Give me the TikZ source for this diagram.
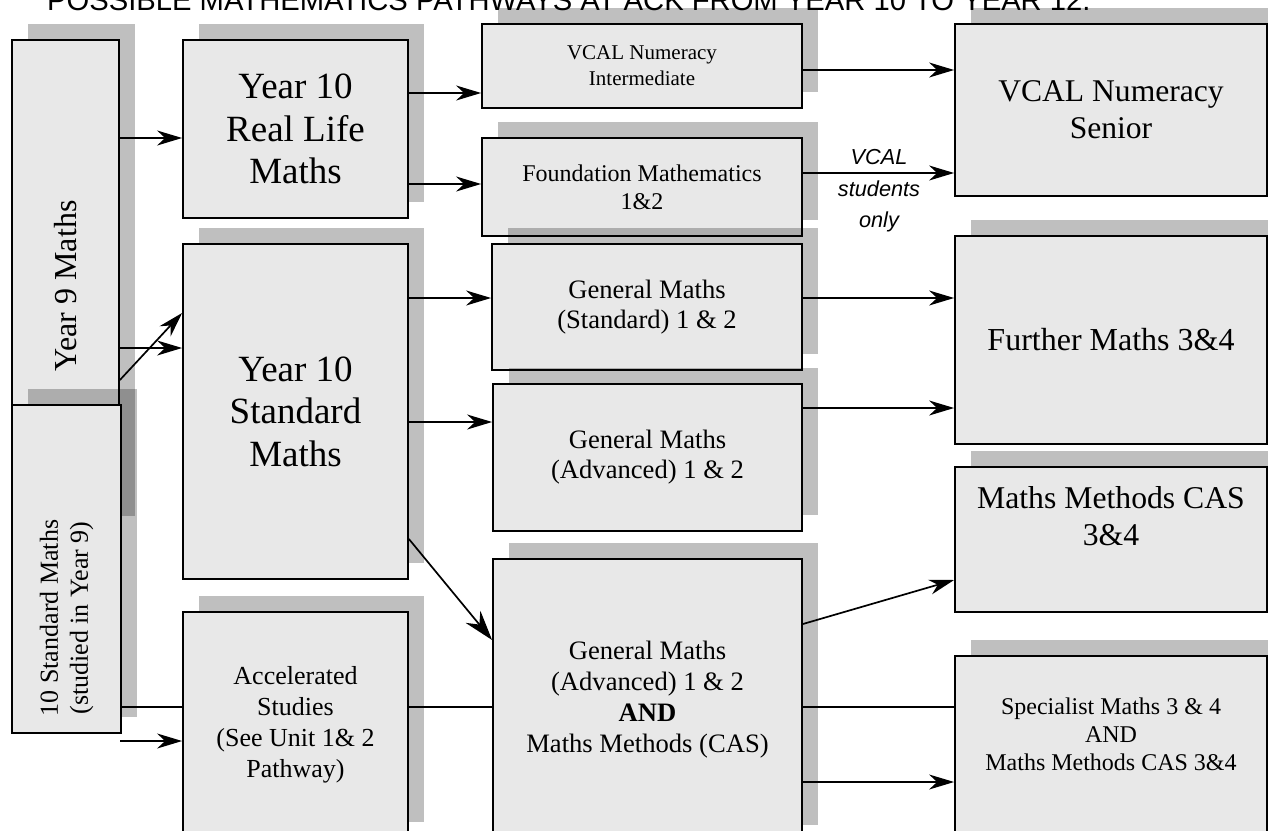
\documentclass[tikz,border=0pt]{standalone}
\usepackage{fontspec}
\setmainfont{Liberation Serif}
\newfontfamily\headfont{Liberation Sans}
\usepackage{tikz}
\usetikzlibrary{arrows.meta, shadows, backgrounds}
\definecolor{boxFill}{HTML}{E8E8E8}
\newcommand{\fsz}[2]{\fontsize{#1}{#2}\selectfont}

\tikzset{
  pathbox/.style={draw=black, line width=1.8pt, fill=boxFill, inner sep=0pt, align=center,
    drop shadow={shadow xshift=16pt, shadow yshift=16pt, fill=black, opacity=0.25}},
  pathtext/.style={inner sep=0pt, align=center},
  pathline/.style={line width=1.7pt},
  patharrow/.style={pathline, -{Stealth[length=25pt, width=15pt, inset=8pt]}},
  bigarrow/.style={pathline, -{Stealth[length=30pt, width=19pt, inset=10pt]}},
}

\begin{document}
\begin{tikzpicture}[x=1pt, y=-1pt]
\path[use as bounding box] (0,0) rectangle (1268,830);
\clip (0,0) rectangle (1268,830);

% title, cut off at the top
\node[anchor=base west, inner sep=0pt, font=\headfont\fsz{29.2}{34}] (title) at (47,10)
  {POSSIBLE MATHEMATICS PATHWAYS AT ACK FROM YEAR 10 TO YEAR 12.};

% year 9 / year 10
\node[pathbox, minimum width=107pt, minimum height=492pt, font=\fsz{32}{36}] (y9) at (65.5,286)
  {\rotatebox{90}{Year 9 Maths}};
\node[pathbox, minimum width=109pt, minimum height=328pt] (s10) at (66.5,569) {};
\node[pathtext, rotate=90, font=\fsz{26}{30}] (s10txt) at ([yshift=-49pt]s10.center)
  {10 Standard Maths\\(studied in Year 9)};
\node[pathbox, minimum width=225pt, minimum height=178pt, font=\fsz{37}{42.5}] (rl) at (295.5,129)
  {Year 10\\Real Life\\Maths};
\node[pathbox, minimum width=225pt, minimum height=335pt, font=\fsz{37}{42.5}] (std) at (295.5,411.5)
  {Year 10\\Standard\\Maths};
\node[pathbox, minimum width=225pt, minimum height=226pt, font=\fsz{26}{31}] (acc) at (295.5,725)
  {Accelerated\\Studies\\(See Unit 1\& 2\\Pathway)};

% year 11
\node[pathbox, minimum width=320pt, minimum height=84pt, font=\fsz{21}{26}] (vint) at (642,66)
  {VCAL Numeracy\\Intermediate};
\node[pathbox, minimum width=320pt, minimum height=98pt, font=\fsz{24}{28}] (fnd) at (642,187)
  {Foundation Mathematics\\1\&2};
\node[pathbox, minimum width=310pt, minimum height=126pt, font=\fsz{26.6}{30}] (gstd) at (647,307)
  {General Maths\\(Standard) 1 \& 2};
\node[pathbox, minimum width=309pt, minimum height=147pt, font=\fsz{26.6}{30}] (gadv) at (647.5,457.5)
  {General Maths\\(Advanced) 1 \& 2};
\node[pathbox, minimum width=309pt, minimum height=282pt, font=\fsz{26.6}{31}] (gand) at (647.5,700)
  {General Maths\\(Advanced) 1 \& 2\\\textbf{AND}\\Maths Methods (CAS)};

% year 12
\node[pathbox, minimum width=312pt, minimum height=172pt, font=\fsz{31.6}{37}] (vsen) at (1111,110)
  {VCAL Numeracy\\Senior};
\node[pathbox, minimum width=312pt, minimum height=208pt, font=\fsz{32}{37}] (fur) at (1111,340)
  {Further Maths 3\&4};
\node[pathbox, minimum width=312pt, minimum height=145pt] (mm) at (1111,539.5) {};
\node[pathtext, font=\fsz{31.7}{37}] (mmtxt) at ([yshift=23.5pt]mm.center)
  {Maths Methods CAS\\3\&4};
\node[pathbox, minimum width=312pt, minimum height=194pt] (spec) at (1111,753) {};
\node[pathtext, font=\fsz{24}{28}] (spectxt) at ([yshift=19pt]spec.center)
  {Specialist Maths 3 \& 4\\AND\\Maths Methods CAS 3\&4};

\node[pathtext, font=\headfont\itshape\fsz{21.7}{31.5}] (vcalonly) at (879,191) {VCAL\\students\\only};
\coordinate (accin) at (120,741);

% connectors sit under the shadows
\begin{pgfonlayer}{background}
\draw[pathline] (s10.east |- 0,707) -- (spec.west |- 0,707);
\draw[patharrow] (y9.east |- 0,138) -- (rl.west |- 0,138);
\draw[patharrow] (y9.east |- 0,348) -- (std.west |- 0,348);
\draw[patharrow] (y9.east |- 0,380) -- (std.west |- 0,313);
\draw[patharrow] (accin) -- (acc.west |- accin);
\draw[patharrow] (rl.east |- 0,93) -- (vint.west |- 0,93);
\draw[patharrow] (rl.east |- 0,184) -- (fnd.west |- 0,184);
\draw[patharrow] (std.east |- 0,298) -- (gstd.west |- 0,298);
\draw[patharrow] (std.east |- 0,422) -- (gadv.west |- 0,422);
\draw[bigarrow] (std.east |- 0,539) -- (gand.west |- 0,640);
\draw[patharrow] (vint.east |- 0,70) -- (vsen.west |- 0,70);
\draw[patharrow] (fnd.east |- 0,173) -- (vsen.west |- 0,173);
\draw[patharrow] (gstd.east |- 0,298) -- (fur.west |- 0,298);
\draw[patharrow] (gadv.east |- 0,408) -- (fur.west |- 0,408);
\draw[patharrow] (gand.east |- 0,624) -- (mm.west |- 0,580);
\draw[patharrow] (gand.east |- 0,782) -- (spec.west |- 0,782);
\end{pgfonlayer}
\end{tikzpicture}
\end{document}
